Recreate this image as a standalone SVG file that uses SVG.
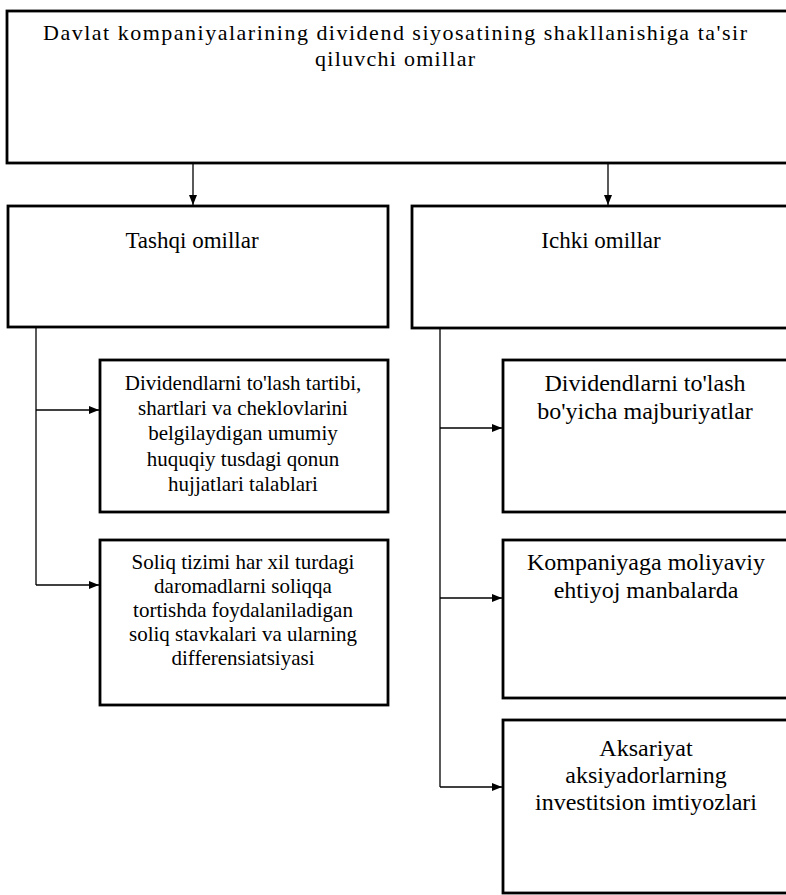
<svg xmlns="http://www.w3.org/2000/svg" width="786" height="895" viewBox="0 0 786 895">
<style>
.box{fill:#fff;stroke:#000;stroke-width:2.8}
.t{font-family:"Liberation Serif","Times New Roman",serif;fill:#000;text-anchor:middle}
.h{font-size:23px}
.ti{font-size:22px}
.s{font-size:21px}
.r{font-size:24px}
.c{fill:none;stroke:#000;stroke-width:1.3}
</style>
<defs>
<marker id="ah" viewBox="0 0 10 10" refX="10" refY="5" markerWidth="10" markerHeight="10" markerUnits="userSpaceOnUse" orient="auto">
<path d="M0,1 L10,5 L0,9 Z" fill="#000"/>
</marker>
</defs>
<rect width="786" height="895" fill="#fff"/>
<g id="top">
<rect class="box" x="7" y="11" width="790" height="152"/>
<text class="t ti" x="395" y="40" textLength="704" lengthAdjust="spacing">Davlat kompaniyalarining dividend siyosatining shakllanishiga ta'sir</text>
<text class="t ti" x="395" y="66" textLength="160" lengthAdjust="spacing">qiluvchi omillar</text>
</g>
<g id="tashqi">
<rect class="box" x="8" y="206" width="380" height="121"/>
<text class="t h" x="192" y="248">Tashqi omillar</text>
</g>
<g id="ichki">
<rect class="box" x="412" y="206" width="385" height="122"/>
<text class="t h" x="601" y="248">Ichki omillar</text>
</g>
<g id="l1">
<rect class="box" x="100" y="360" width="288" height="152"/>
<text class="t s" x="243" y="390">Dividendlarni to'lash tartibi,</text>
<text class="t s" x="243" y="415">shartlari va cheklovlarini</text>
<text class="t s" x="243" y="440">belgilaydigan umumiy</text>
<text class="t s" x="243" y="466">huquqiy tusdagi qonun</text>
<text class="t s" x="243" y="491">hujjatlari talablari</text>
</g>
<g id="l2">
<rect class="box" x="100" y="540" width="288" height="165"/>
<text class="t s" x="243" y="569">Soliq tizimi har xil turdagi</text>
<text class="t s" x="243" y="593">daromadlarni soliqqa</text>
<text class="t s" x="243" y="617">tortishda foydalaniladigan</text>
<text class="t s" x="243" y="641">soliq stavkalari va ularning</text>
<text class="t s" x="243" y="665">differensiatsiyasi</text>
</g>
<g id="r1">
<rect class="box" x="503" y="360" width="294" height="152"/>
<text class="t r" x="645" y="391">Dividendlarni to'lash</text>
<text class="t r" x="645" y="419">bo'yicha majburiyatlar</text>
</g>
<g id="r2">
<rect class="box" x="503" y="540" width="294" height="158"/>
<text class="t r" x="646" y="570">Kompaniyaga moliyaviy</text>
<text class="t r" x="646" y="598">ehtiyoj manbalarda</text>
</g>
<g id="r3">
<rect class="box" x="503" y="720" width="294" height="173"/>
<text class="t r" x="646" y="756">Aksariyat</text>
<text class="t r" x="646" y="783">aksiyadorlarning</text>
<text class="t r" x="646" y="810">investitsion imtiyozlari</text>
</g>
<g id="connectors">
<line class="c" x1="193" y1="163" x2="193" y2="205" marker-end="url(#ah)"/>
<line class="c" x1="608" y1="163" x2="608" y2="205" marker-end="url(#ah)"/>
<polyline class="c" points="36,327 36,585"/>
<line class="c" x1="36" y1="410" x2="99" y2="410" marker-end="url(#ah)"/>
<line class="c" x1="36" y1="585" x2="99" y2="585" marker-end="url(#ah)"/>
<polyline class="c" points="440,328 440,787"/>
<line class="c" x1="440" y1="428" x2="502" y2="428" marker-end="url(#ah)"/>
<line class="c" x1="440" y1="598" x2="502" y2="598" marker-end="url(#ah)"/>
<line class="c" x1="440" y1="787" x2="502" y2="787" marker-end="url(#ah)"/>
</g>
</svg>
